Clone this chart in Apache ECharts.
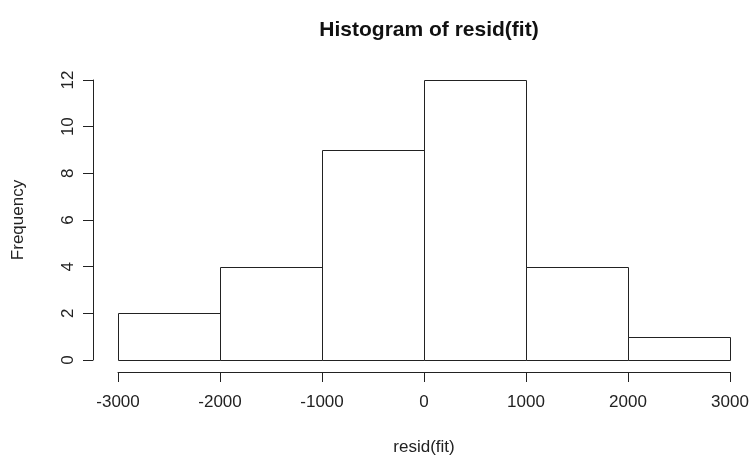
<!DOCTYPE html>
<html>
<head>
<meta charset="utf-8">
<script src="https://cdn.jsdelivr.net/npm/echarts@6/dist/echarts.min.js"></script>
<style>
  html, body { margin: 0; padding: 0; background: #fff; }
  #chart { width: 750px; height: 458px; }
</style>
</head>
<body>
<div id="chart"></div>
<script>
// histogram bins (breaks) and counts
const binStart = [-3000, -2000, -1000, 0, 1000, 2000]
const binEnd = [-2000, -1000, 0, 1000, 2000, 3000]
const counts = [2, 4, 9, 12, 4, 1]

// axis ticks
const xMin = -3000, xMax = 3000, xStep = 1000
const yMin = 0, yMax = 12, yStep = 2

const FONT = '"Liberation Sans", Arial, Helvetica, sans-serif'
const INK = '#222'

const chart = echarts.init(document.getElementById('chart'))

const barData = binStart.map((s, i) => [s, binEnd[i], counts[i]])

const option = {
  backgroundColor: '#fff',
  animation: false,
  title: {
    text: 'Histogram of resid(fit)',
    left: 424,
    top: 15,
    textAlign: 'center',
    textStyle: { fontFamily: FONT, fontSize: 21, fontWeight: 'bold', color: '#111' }
  },
  grid: { left: 118, right: 20, top: 80, bottom: 98, outerBoundsMode: 'none', containLabel: false },
  xAxis: {
    type: 'value',
    min: xMin, max: xMax, interval: xStep,
    offset: 12,
    name: 'resid(fit)',
    nameLocation: 'middle',
    nameGap: 67,
    nameTextStyle: { fontFamily: FONT, fontSize: 17, color: INK },
    splitLine: { show: false },
    axisLine: { show: true, onZero: false, lineStyle: { color: INK, width: 1 } },
    axisTick: { show: true, length: 10, lineStyle: { color: INK } },
    axisLabel: { fontFamily: FONT, fontSize: 17, color: INK, margin: 22, formatter: v => String(v) }
  },
  yAxis: {
    type: 'value',
    min: yMin, max: yMax, interval: yStep,
    offset: 25,
    name: 'Frequency',
    nameLocation: 'middle',
    nameRotate: 90,
    nameGap: 66,
    nameTextStyle: { fontFamily: FONT, fontSize: 17, color: INK },
    splitLine: { show: false },
    axisLine: { show: true, onZero: false, lineStyle: { color: INK, width: 1 } },
    axisTick: { show: true, length: 10, lineStyle: { color: INK } },
    axisLabel: { fontFamily: FONT, fontSize: 17, color: INK, rotate: 90, margin: 16, formatter: v => String(v) }
  },
  series: [{
    type: 'custom',
    data: barData,
    encode: { x: [0, 1], y: 2 },
    renderItem: (params, api) => {
      const p0 = api.coord([api.value(0), 0])
      const p1 = api.coord([api.value(1), api.value(2)])
      return {
        type: 'rect',
        shape: {
          x: Math.round(p0[0]) + 0.5,
          y: Math.round(p1[1]) + 0.5,
          width: Math.round(p1[0]) - Math.round(p0[0]),
          height: Math.round(p0[1]) - Math.round(p1[1])
        },
        style: { fill: '#fff', stroke: INK, lineWidth: 1 }
      }
    }
  }]
}

chart.setOption(option)
</script>
</body>
</html>
